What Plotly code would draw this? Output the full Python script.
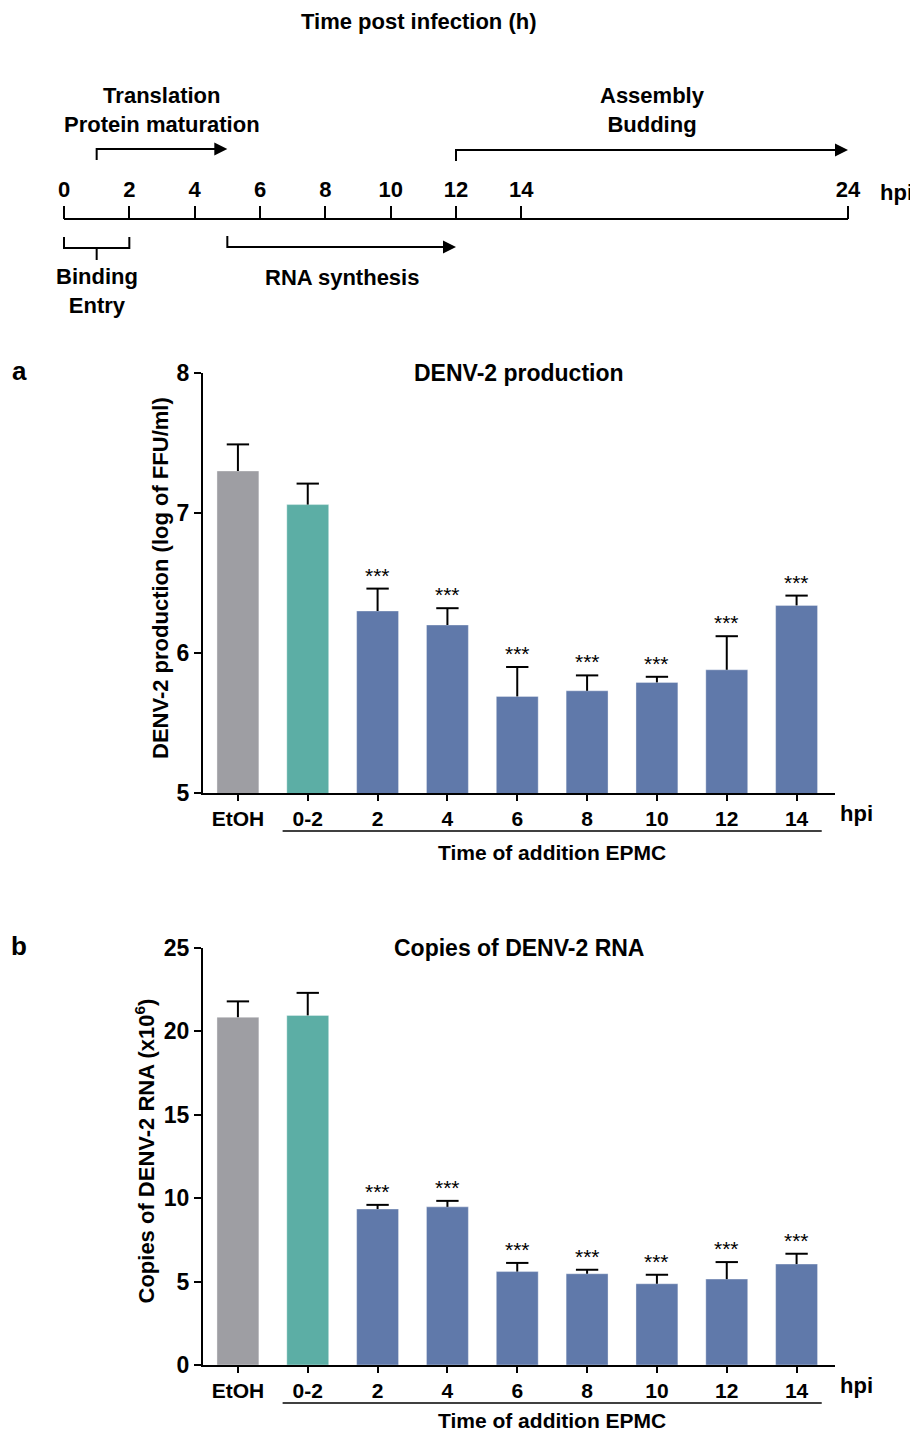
import plotly.graph_objects as go

# page body has an 8px margin; figure is sized to fit the remaining viewport
OFF = 8
W, H = 918 - OFF, 1439 - 2 * OFF
FONT = "Liberation Sans, Arial, sans-serif"

# ---------------- data ----------------
timeline_ticks = [0, 2, 4, 6, 8, 10, 12, 14, 24]
phase_labels = ["<b>Binding<br>Entry</b>", "<b>Translation<br>Protein maturation</b>",
                "<b>RNA synthesis</b>", "<b>Assembly<br>Budding</b>"]
phase_start = [0, 1, 5, 12]
phase_end = [2, 5, 12, 24]

categories = ["EtOH", "0-2", "2", "4", "6", "8", "10", "12", "14"]
prod_mean = [7.30, 7.06, 6.30, 6.20, 5.69, 5.73, 5.79, 5.88, 6.34]
prod_err = [0.19, 0.15, 0.16, 0.12, 0.21, 0.11, 0.04, 0.24, 0.07]
rna_mean = [20.85, 20.96, 9.35, 9.48, 5.60, 5.47, 4.87, 5.15, 6.05]
rna_err = [0.95, 1.35, 0.25, 0.36, 0.52, 0.24, 0.54, 1.02, 0.62]
significance = ["", "", "***", "***", "***", "***", "***", "***", "***"]

bar_colors = ["#9e9ea3", "#5caea5"] + ["#6079aa"] * 7


def px(p):
    return (p - OFF) / W


def py(p):
    return 1 - (p - OFF) / H


fig = go.Figure()
LINE = dict(color="black", width=2)

# ---------------- timeline ----------------
t0_px, t24_px = 64, 848
s = (t24_px - t0_px) / 24.0
line_y = 219


def tl_line(xs, ys):
    fig.add_trace(go.Scatter(x=xs, y=ys, mode="lines", line=LINE, xaxis="x3", yaxis="y3",
                             showlegend=False, hoverinfo="skip"))


tl_line([min(timeline_ticks), max(timeline_ticks)], [line_y, line_y])

annotations = []
TFONT = dict(size=22, family=FONT, color="black")

# phase 0: bracket below axis
b0, b1 = phase_start[0], phase_end[0]
tl_line([b0, b0, b1, b1], [237, 248, 248, 237])
tl_line([(b0 + b1) / 2] * 2, [248, 260])
annotations.append(dict(x=(b0 + b1) / 2, y=291, xref="x3", yref="y3", text=phase_labels[0],
                        showarrow=False, font=TFONT, xanchor="center", yanchor="middle"))

# arrows for phases 1..3
arrow_rows = {1: (160, 149, 110), 2: (236, 247, 277), 3: (161, 150, 110)}
for i in (1, 2, 3):
    y_start, y_line, y_lab = arrow_rows[i]
    a, b = phase_start[i], phase_end[i]
    tl_line([a, a, b - 0.15], [y_start, y_line, y_line])
    annotations.append(dict(x=b, y=y_line, ax=b - 0.6, ay=y_line, xref="x3", yref="y3",
                            axref="x3", ayref="y3", text="", showarrow=True, arrowhead=2,
                            arrowsize=1.3, arrowwidth=2, arrowcolor="black", standoff=0))
    annotations.append(dict(x=(a + b) / 2, y=y_lab, xref="x3", yref="y3", text=phase_labels[i],
                            showarrow=False, font=TFONT, xanchor="center", yanchor="middle"))

annotations.append(dict(x=px(418), y=py(21), xref="paper", yref="paper",
                        text="<b>Time post infection (h)</b>", showarrow=False, font=TFONT,
                        xanchor="center", yanchor="middle"))
annotations.append(dict(x=px(915), y=py(192), xref="paper", yref="paper", text="<b>hpi</b>",
                        showarrow=False, font=TFONT, xanchor="right", yanchor="middle"))

# ---------------- bar panels ----------------
panels = [
    dict(xa="x", ya="y", mean=prod_mean, err=prod_err, top=373, bottom=793,
         yr=[5, 8], tv=[5, 6, 7, 8], title="DENV-2 production", ytx=160,
         ytitle="DENV-2 production (log of FFU/ml)", letter="a", lab_dy=59, line_dy=38),
    dict(xa="x2", ya="y2", mean=rna_mean, err=rna_err, top=948, bottom=1365,
         yr=[0, 25], tv=[0, 5, 10, 15, 20, 25], title="Copies of DENV-2 RNA", ytx=144,
         ytitle="Copies of DENV-2 RNA (x10<sup>6</sup>)", letter="b", lab_dy=55, line_dy=38),
]

cap = 0.16  # half cap width in category units
for p in panels:
    idx = list(range(len(categories)))
    fig.add_trace(go.Bar(
        x=idx, y=p["mean"], width=0.6,
        marker=dict(color=bar_colors, line=dict(color="rgba(255,255,255,0.35)", width=1)),
        xaxis=p["xa"], yaxis=p["ya"], showlegend=False))
    ex, ey = [], []
    for i, (m, e) in enumerate(zip(p["mean"], p["err"])):
        ex += [i, i, None, i - cap, i + cap, None]
        ey += [m, m + e, None, m + e, m + e, None]
    fig.add_trace(go.Scatter(x=ex, y=ey, mode="lines", line=LINE, xaxis=p["xa"], yaxis=p["ya"],
                             showlegend=False, hoverinfo="skip", cliponaxis=False))
    for i, sig in enumerate(significance):
        if sig:
            annotations.append(dict(x=i, y=p["mean"][i] + p["err"][i], xref=p["xa"], yref=p["ya"],
                                    text=sig, showarrow=False, yanchor="bottom", yshift=0,
                                    font=dict(size=21, family=FONT, color="black")))
    annotations.append(dict(x=px(519), y=py(p["top"]), xref="paper", yref="paper",
                            text="<b>%s</b>" % p["title"], showarrow=False,
                            font=dict(size=23, family=FONT, color="black"),
                            xanchor="center", yanchor="middle"))
    annotations.append(dict(x=px(19), y=py(p["top"] - 2), xref="paper", yref="paper",
                            text="<b>%s</b>" % p["letter"], showarrow=False,
                            font=dict(size=26, family=FONT, color="black"),
                            xanchor="center", yanchor="middle"))
    annotations.append(dict(x=px(p["ytx"]), y=py((p["top"] + p["bottom"]) / 2 - 5), xref="paper",
                            yref="paper", text="<b>%s</b>" % p["ytitle"], showarrow=False,
                            textangle=-90, font=dict(size=22, family=FONT, color="black"),
                            xanchor="center", yanchor="middle"))
    annotations.append(dict(x=px(856), y=py(p["bottom"] + 20), xref="paper", yref="paper",
                            text="<b>hpi</b>", showarrow=False,
                            font=dict(size=22, family=FONT, color="black"),
                            xanchor="center", yanchor="middle"))
    annotations.append(dict(x=(1 + len(categories) - 1) / 2, y=py(p["bottom"] + p["lab_dy"]),
                            xref=p["xa"], yref="paper", text="<b>Time of addition EPMC</b>",
                            showarrow=False, font=dict(size=21, family=FONT, color="black"),
                            xanchor="center", yanchor="middle"))

shapes = []
for p in panels:
    yl = py(p["bottom"] + p["line_dy"])
    shapes.append(dict(type="line", xref=p["xa"], yref="paper", x0=1 - 0.36,
                       x1=len(categories) - 1 + 0.36, y0=yl, y1=yl,
                       line=dict(color="black", width=1.5)))

common_x = dict(domain=[px(203), px(835)], range=[-0.5, 8.55], showline=True, linewidth=2,
                linecolor="black", ticks="outside", ticklen=6, tickwidth=2, tickcolor="black",
                tickmode="array", tickvals=list(range(len(categories))),
                ticktext=["<b>%s</b>" % c for c in categories],
                tickfont=dict(size=21, family=FONT, color="black"), showgrid=False,
                zeroline=False, automargin=False)


def yax(p):
    return dict(domain=[py(p["bottom"]), py(p["top"])], range=p["yr"], showline=True,
                linewidth=2, linecolor="black", ticks="outside", ticklen=7, tickwidth=2,
                tickcolor="black", tickmode="array", tickvals=p["tv"],
                ticktext=["<b>%d</b>" % v for v in p["tv"]],
                tickfont=dict(size=23, family=FONT, color="black"), showgrid=False,
                zeroline=False, automargin=False)


fig.update_layout(
    width=W, height=H, margin=dict(l=0, r=0, t=0, b=0, autoexpand=False),
    paper_bgcolor="white", plot_bgcolor="rgba(0,0,0,0)",
    font=dict(family=FONT, color="black"),
    xaxis=dict(common_x, anchor="y"),
    yaxis=dict(yax(panels[0]), anchor="x"),
    xaxis2=dict(common_x, anchor="y2"),
    yaxis2=dict(yax(panels[1]), anchor="x2"),
    xaxis3=dict(domain=[0, 1], range=[(OFF - t0_px) / s, (918 - t0_px) / s], anchor="free",
                position=py(line_y), side="top", showline=False, ticks="outside", ticklen=13,
                tickwidth=2, tickcolor="black", tickmode="array", tickvals=timeline_ticks,
                ticktext=["<b>%d</b>" % v for v in timeline_ticks],
                tickfont=dict(size=22, family=FONT, color="black"), showgrid=False,
                zeroline=False, automargin=False),
    yaxis3=dict(domain=[py(330), 1], range=[330, OFF], anchor="x3", visible=False,
                automargin=False),
    annotations=annotations,
    shapes=shapes,
    bargap=0.4,
)

fig.write_html("out.html")
